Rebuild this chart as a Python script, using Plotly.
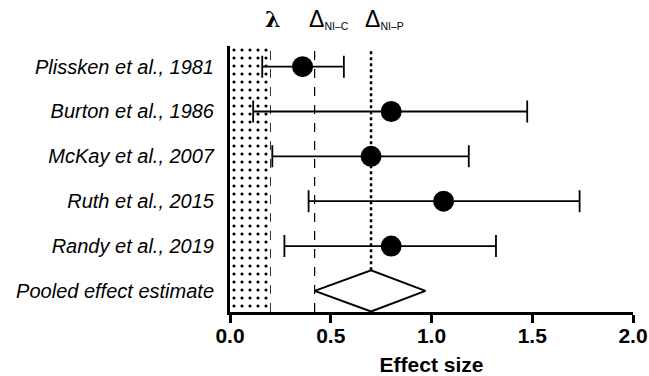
import plotly.graph_objects as go

# ---- data ----
studies = ["Plissken et al., 1981", "Burton et al., 1986", "McKay et al., 2007",
           "Ruth et al., 2015", "Randy et al., 2019"]
effects = [0.36, 0.80, 0.70, 1.06, 0.80]
ci_low = [0.16, 0.115, 0.21, 0.39, 0.27]
ci_high = [0.565, 1.475, 1.185, 1.735, 1.32]
pooled_label = "Pooled effect estimate"
pooled_est = 0.70
pooled_low = 0.42
pooled_high = 0.97
lambda_val = 0.20
delta_nic = 0.42
delta_nip = 0.70
x_ticks = [0.0, 0.5, 1.0, 1.5, 2.0]
x_tick_labels = ["0.0", "0.5", "1.0", "1.5", "2.0"]

n = len(studies)
y_pos = [n - i for i in range(n)]      # 5..1 top to bottom
y_pooled = 0
y_lo, y_hi = -0.47, 5.46
dia_h = 0.46

fig = go.Figure()

# stippled lambda region
fig.add_trace(go.Bar(
    x=[lambda_val], y=[(y_lo + y_hi) / 2], base=0, width=[y_hi - y_lo],
    orientation="h",
    marker=dict(color="white", line=dict(width=0),
                pattern=dict(shape=".", fgcolor="black", bgcolor="white", fgopacity=1,
                             size=8, solidity=0.12, fillmode="replace")),
    hoverinfo="skip", showlegend=False))

# pooled diamond
fig.add_trace(go.Scatter(
    x=[pooled_low, pooled_est, pooled_high, pooled_est, pooled_low],
    y=[y_pooled, y_pooled + dia_h, y_pooled, y_pooled - dia_h, y_pooled],
    mode="lines", fill="toself", fillcolor="white",
    line=dict(color="black", width=2), showlegend=False, hoverinfo="skip"))

# study estimates with CI
fig.add_trace(go.Scatter(
    x=effects, y=y_pos, mode="markers",
    marker=dict(size=21, color="black"),
    error_x=dict(type="data", symmetric=False,
                 array=[h - e for h, e in zip(ci_high, effects)],
                 arrayminus=[e - l for e, l in zip(effects, ci_low)],
                 color="black", thickness=1.8, width=11),
    showlegend=False))

shapes = [
    dict(type="line", xref="x", yref="y", x0=lambda_val, x1=lambda_val,
         y0=y_lo, y1=y_hi, line=dict(color="black", width=1, dash="dash"), layer="below"),
    dict(type="line", xref="x", yref="paper", x0=delta_nic, x1=delta_nic,
         y0=0, y1=1.01, line=dict(color="black", width=1.2, dash="dash"), layer="below"),
    dict(type="line", xref="x", yref="y", x0=delta_nip, x1=delta_nip,
         y0=y_pooled + dia_h, y1=y_hi - 0.05, line=dict(color="black", width=2.5, dash="dot"),
         layer="below"),
]

annotations = [
    dict(text="<b>λ</b>", x=lambda_val + 0.01, xref="x", y=1.1, yref="paper",
         xanchor="center", yanchor="middle", showarrow=False,
         font=dict(size=22, color="black", family="DejaVu Serif")),
    dict(text="<span style='font-size:23px'>Δ</span><sub>NI–C</sub>", x=delta_nic, xref="x",
         y=1.1, yref="paper", xanchor="left", yanchor="middle", xshift=-8, showarrow=False,
         font=dict(size=15, color="black", family="Liberation Sans")),
    dict(text="<span style='font-size:23px'>Δ</span><sub>NI–P</sub>", x=delta_nip, xref="x",
         y=1.1, yref="paper", xanchor="left", yanchor="middle", xshift=-8, showarrow=False,
         font=dict(size=15, color="black", family="Liberation Sans")),
]

fig.update_layout(
    width=649, height=376,
    margin=dict(l=230, r=16, t=46, b=64, autoexpand=False),
    paper_bgcolor="white", plot_bgcolor="white",
    shapes=shapes, annotations=annotations,
    font=dict(family="Liberation Sans", color="black"),
    xaxis=dict(range=[0, 2], tickvals=x_ticks, ticktext=x_tick_labels,
               showgrid=False, zeroline=False, showline=True, linecolor="black",
               linewidth=3, ticks="outside", ticklen=8, tickwidth=3, tickcolor="black",
               automargin=False, ticklabelstandoff=-5,
               tickfont=dict(size=21, weight="bold", family="Liberation Sans"),
               title=dict(text="Effect size", standoff=18,
                          font=dict(size=21, weight="bold", family="Liberation Sans"))),
    yaxis=dict(range=[y_lo, y_hi], tickvals=y_pos + [y_pooled],
               ticktext=["<i>" + s + "</i>" for s in studies] + ["<i>" + pooled_label + "</i>"],
               showgrid=False, zeroline=False, showline=True, linecolor="black",
               linewidth=3, ticks="", ticklabelstandoff=9, automargin=False,
               tickfont=dict(size=20, family="Liberation Sans")),
    bargap=0,
)

fig.write_html("out.html", config={"displayModeBar": False},
               post_script="document.body.style.margin='0';document.body.style.overflow='hidden';")
